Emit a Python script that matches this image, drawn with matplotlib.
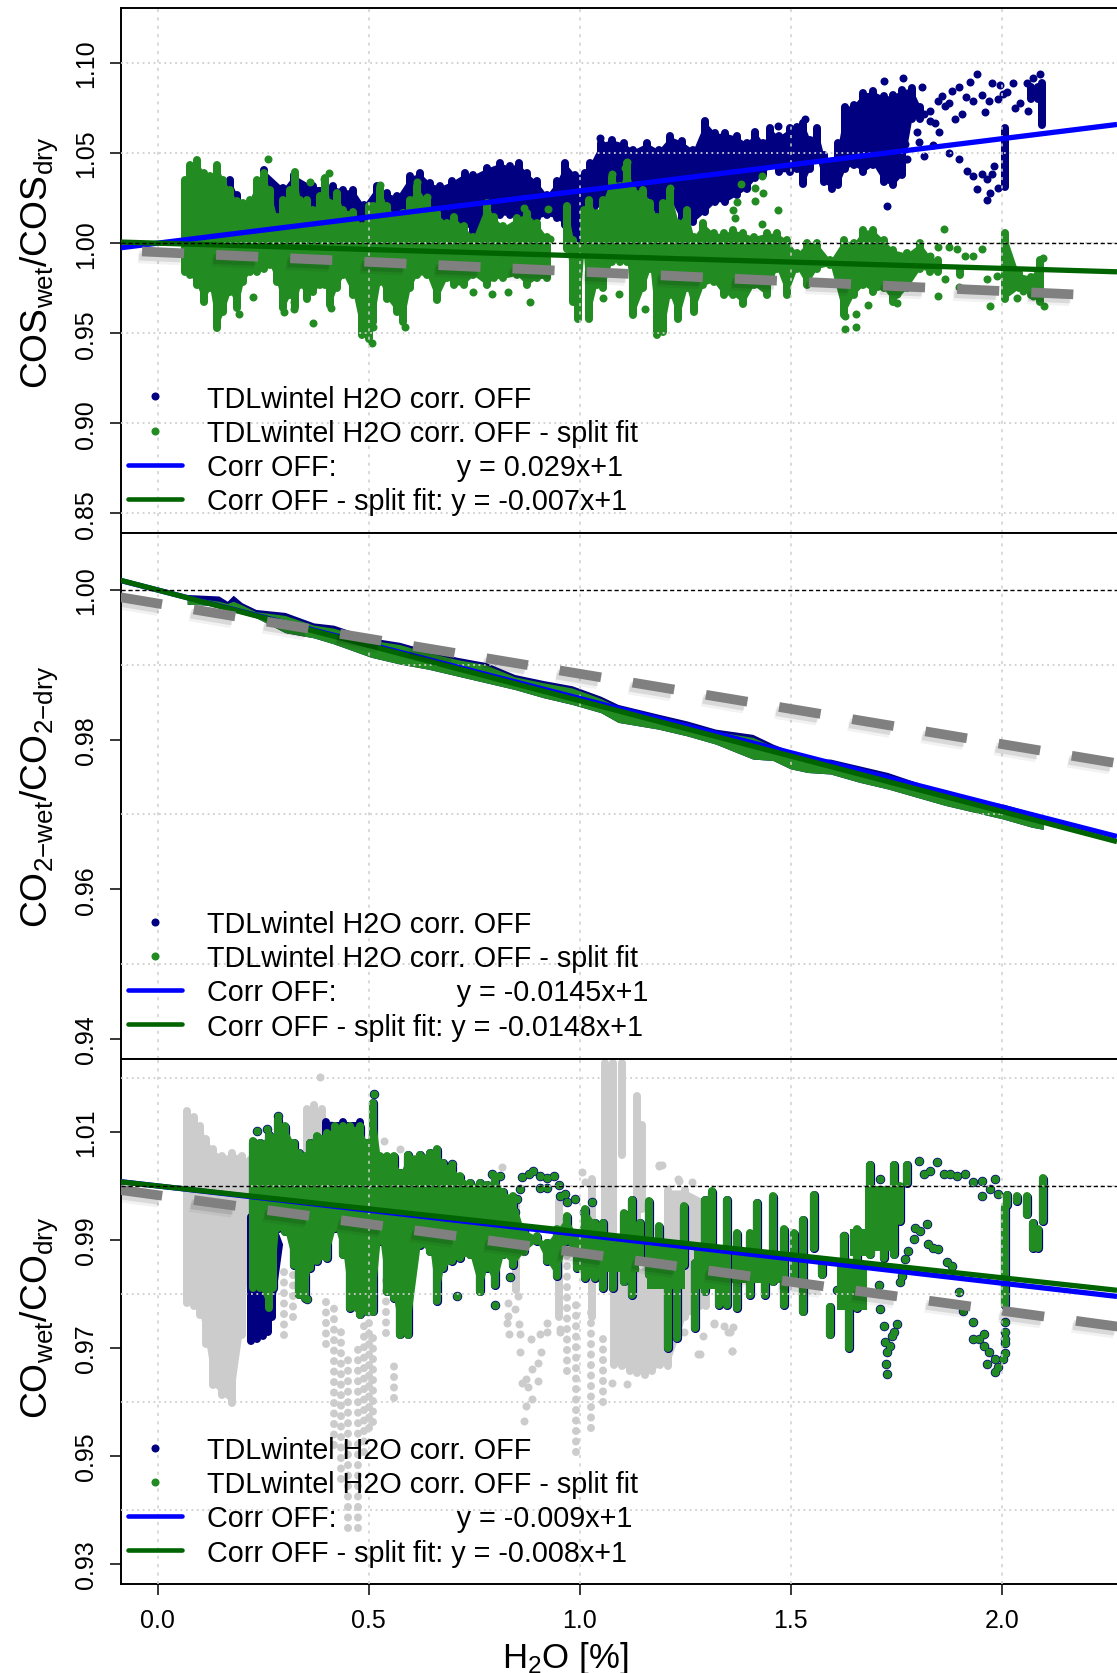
import matplotlib
matplotlib.use("Agg")
import matplotlib.pyplot as plt
import matplotlib.patheffects as pe
from matplotlib.lines import Line2D
import numpy as np

plt.rcParams['font.family'] = ['Liberation Sans', 'DejaVu Sans']
plt.rcParams['mathtext.fontset'] = 'custom'
plt.rcParams['mathtext.rm'] = 'Liberation Sans'
plt.rcParams['mathtext.it'] = 'Liberation Sans'
plt.rcParams['mathtext.default'] = 'rm'

# ---------- labels ----------
x_ticks = [0.0, 0.5, 1.0, 1.5, 2.0]
x_label = r'$\mathrm{H_2O}$ [%]'
series_a = 'TDLwintel H2O corr. OFF'
series_b = 'TDLwintel H2O corr. OFF - split fit'

# ---------- panel 1: COS ----------
cos_ticks = [0.85, 0.90, 0.95, 1.00, 1.05, 1.10]
cos_grid = [0.85, 0.90, 0.95, 1.00, 1.05, 1.10]
cos_fit_a, cos_fit_b = 0.029, -0.007
cos_ref = (0.9950, -0.0108)
cos_ref_x = (-0.037, 2.186)

cos_navy_x = [.172, .188, .211, .251, .298, .322, .369, .416, .440, .464, .488, .519, .543, .567, .598, .622, .646,
              .669, .697, .729, .748, .780, .812, .835, .855, .875, .898, .922, .946, .966, .989, 1.013, 1.025,
              1.05, 1.076, 1.104, 1.127, 1.159, 1.187, 1.214, 1.242, 1.269, 1.297, 1.321, 1.345, 1.372, 1.396, 1.416,
              1.435, 1.451, 1.471, 1.499, 1.514, 1.530, 1.546, 1.562, 1.578, 1.597, 1.613, 1.629, 1.649, 1.672,
              1.696, 1.720, 1.743, 1.763, 1.787, 1.807, 2.008, 2.070, 2.085, 2.095]
cos_navy_top = [1.0374, 1.0291, 1.0226, 1.043, 1.0328, 1.0402, 1.0337, 1.0337, 1.0319, 1.0319, 1.0235, 1.0337, 1.03,
                1.0282, 1.0393, 1.0411, 1.0356, 1.0337, 1.0365, 1.0411, 1.0402, 1.0439, 1.0467, 1.0448, 1.0467,
                1.0411, 1.0365, 1.0291, 1.0365, 1.0467, 1.0402, 1.0411, 1.0466, 1.058, 1.0596, 1.0578, 1.0541, 1.0578,
                1.0541, 1.0615, 1.0587, 1.0541, 1.0698, 1.0633, 1.0633, 1.0615, 1.0578, 1.0642, 1.0578, 1.0661,
                1.0615, 1.0661, 1.067, 1.0689, 1.0596, 1.0661, 1.0513, 1.0466, 1.0578, 1.0781, 1.079, 1.0855, 1.0865,
                1.0837, 1.0846, 1.0874, 1.0883, 1.0781, 1.0661, 1.0892, 1.0892, 1.0911]
cos_navy_bot = [1.0, 1.0, 1.0, 1.0, 1.0, 1.0, 1.0, 1.0, 1.0, 1.0, 1.0, 1.0, 1.0, 1.0, 1.0, 1.0, 1.0,
                1.0059, 1.0096, 1.0078, 1.0041, 1.0096, 1.0133, 1.0133, 1.0115, 1.0031, 1.0115, 1.0133, 1.0115,
                1.0078, .9967, .9965, 1.0115, 1.02, 1.0281, 1.0281, 1.0281, 1.0244, 1.0096, 1.0226, 1.0096, 1.0096,
                1.0152, 1.0207, 1.0207, 1.0244, 1.0281, 1.0337, 1.0355, 1.0411, 1.0374, 1.0374, 1.0392, 1.0309,
                1.0392, 1.0448, 1.0318, 1.0281, 1.03, 1.0392, 1.0411, 1.0374, 1.0411, 1.0318, 1.03, 1.0355, 1.067,
                1.067, 1.0291, 1.0781, 1.0781, 1.0633]
cos_navy_px = [1.048, 1.728, 1.965, 1.973, 1.941, 1.720, 1.766, 1.812, 1.882, 1.898, 1.925, 1.941, 1.915, 1.933, 1.953,
               1.969, 1.961, 1.890, 1.905, 1.830, 1.842, 1.852, 1.800, 1.750, 1.728, 1.803, 1.771, 1.838, 1.874, 1.898,
               1.775, 1.815, 1.763, 1.917, 1.933, 1.953, 1.965, 1.982, 1.992, 1.976, 1.996, 1.990, 2.004, 2.026, 2.044,
               2.032, 2.063, 2.059, 2.075, 2.090, 1.533, 1.469, 1.858, 1.850, 1.874, 1.866, 1.830, 1.815, 1.795, 2.012,
               1.977]
cos_navy_py = [1.0583, 1.0207, 1.0241, 1.0281, 1.03, 1.0902, 1.0915, 1.0865, 1.0846, 1.0865, 1.0896, 1.0939, 1.0813,
               1.0787, 1.0824, 1.0787, 1.0731, 1.0689, 1.0716, 1.068, 1.0666, 1.0618, 1.0618, 1.0596, 1.0559, 1.0563,
               1.055, 1.0544, 1.0503, 1.047, 1.0466, 1.0485, 1.0448, 1.0402, 1.0374, 1.0383, 1.0355, 1.0429, 1.0309,
               1.0892, 1.0878, 1.08, 1.0828, 1.0887, 1.0781, 1.0753, 1.0735, 1.0892, 1.092, 1.0939, 1.0692, 1.0652,
               1.0815, 1.0791, 1.0781, 1.0763, 1.0735, 1.0716, 1.0716, 1.0837, 1.0383]

cos_green_x = [.065, .077, .093, .109, .124, .140, .156, .172, .188, .203, .219, .235, .251, .266, .282, .298, .314,
               .326, .338, .353, .369, .385, .397, .409, .424, .440, .464, .484, .500, .511, .527, .543, .567, .582,
               .598, .614, .638, .661, .685, .701, .725, .748, .780, .796, .819, .851, .875, .898, .922, .970, .985,
               .997, 1.009, 1.021, 1.040, 1.056, 1.076, 1.096, 1.112, 1.127, 1.151, 1.167, 1.183, 1.198, 1.214, 1.234,
               1.254, 1.270, 1.293, 1.317, 1.341, 1.364, 1.388, 1.412, 1.443, 1.467, 1.491, 1.515, 1.538, 1.562,
               1.594, 1.625, 1.649, 1.672, 1.696, 1.720, 1.743, 1.775, 1.807, 1.830, 1.85, 1.90, 1.95, 2.008, 2.04,
               2.07, 2.09]
cos_green_top = [1.0374, 1.0458, 1.0485, 1.0411, 1.0393, 1.0458, 1.0374, 1.0319, 1.0254, 1.0245, 1.0263, 1.0374, 1.0411,
                 1.0319, 1.017, 1.0263, 1.0319, 1.042, 1.0263, 1.0263, 1.0208, 1.0282, 1.0383, 1.0245, 1.03, 1.0208,
                 1.0198, 1.0115, 1.0226, 1.0226, 1.0328, 1.0226, 1.017, 1.0189, 1.0263, 1.0337, 1.0254, 1.0189, 1.0133,
                 1.017, 1.0115, 1.0059, 1.0245, 1.017, 1.0115, 1.0161, 1.0189, 1.0133, 1.0059, 1.0226, 1.0041, 1.0004,
                 1.0208, 1.0263, 1.0189, 1.0263, 1.0392, 1.0337, 1.0466, 1.0318, 1.0318, 1.0244, 1.017, 1.0244, 1.0318,
                 1.0133, 1.0207, 1.0059, 1.0133, 1.0078, 1.0078, 1.0096, 1.0078, 1.0059, 1.0078, 1.0078, 1.0041, .9966,
                 1.0022, 1.0022, .9929, 1.0041, 1.0022, 1.0096, 1.0096, 1.0041, .9985, .9966, 1.0022, .9948, .9929,
                 .9874, .9874, 1.0078, .9855, .9837, .9929]
cos_green_bot = [.9819, .98, .9745, .9652, .9726, .9504, .9596, .9708, .9615, .9763, .9819, .9819, .9837, .9856, .9763,
                 .9615, .9689, .9624, .9745, .967, .9708, .9745, .9745, .9633, .9726, .98, .9689, .9467, .9448, .9541,
                 .9763, .967, .9596, .9541, .9726, .98, .98, .9661, .9782, .9745, .9745, .98, .9745, .9782, .9782, .98,
                 .9745, .9782, .9782, .9948, .9652, .9559, .9911, .9559, .9744, .9726, .9874, .9874, .9874, .9578, .9726,
                 .9837, .9467, .9485, .9689, .9559, .9726, .9596, .9744, .9763, .9689, .9689, .9642, .9744, .9689, .9837,
                 .9689, .9837, .9744, .9837, .9855, .9578, .9689, .9744, .9707, .9726, .9652, .9726, .9837, .9818, .9818,
                 .98, .9837, .967, .9726, .9689, .9652]
cos_green_px = [.261, .361, .405, .393, .527, .369, .300, .322, .322, .410, .193, .227, .748, .793, .831, .883, .507, .585,
                .511, .638, .614, .926, .887, .867, .93, 1.112, 1.108, 1.076, 1.214, 1.383, 1.416, 1.431, 1.435, 1.416,
                1.372, 1.363, 1.469, 1.431, 1.862, 1.368, 1.629, 1.655, 1.629, 1.655, 1.682, 1.751, 1.751, 1.848, 1.866,
                1.898, 1.953, 1.933, 1.913, 1.894, 1.874, 1.850, 1.830, 1.973, 2.097, 2.099, 2.075, 2.036, 2.032, 2.051,
                1.965, 1.988, 2.068, 2.083, 1.155, 1.094, 1.055]
cos_green_py = [1.0467, 1.0337, 1.0387, 1.0356, 1.0324, .9556, .9615, .9633, .9676, .9639, .9606, .9702, .9726, .9720,
                .9726, .9674, .9443, .9535, .9537, 1.0258, 1.0337, 1.0189, 1.0106, 1.0198, 1.0022, 1.0448, 1.042, 1.0383,
                1.0309, 1.0328, 1.0309, 1.0374, 1.0281, 1.0235, 1.0226, 1.0183, 1.0185, 1.0105, 1.0078, 1.0142, .9522,
                .9535, .9596, .9605, .9657, .9720, .9670, .9707, .98, .9759, .9966, .9926, .9926, .9966, .9976, .9981,
                .9929, .9652, .9920, .9652, .9707, .9698, .9781, .9735, .98, .9818, .98, .9818, .9637, .9716, .9698]

# ---------- panel 2: CO2 ----------
co2_ticks = [0.94, 0.96, 0.98, 1.00]
co2_grid = [0.95, 0.97, 0.99]
co2_fit_a, co2_fit_b = -0.0145, -0.0148
co2_ref = (0.9982, -0.0094)
co2_ref_x = (-0.088, 2.30)
co2_x = [.070, .145, .165, .179, .20, .233, .302, .370, .417, .506, .574, .642, .710, .778, .846, .914, .982, 1.050, 1.091,
         1.186, 1.254, 1.322, 1.410, 1.458, 1.499, 1.540, 1.594, 1.662, 1.730, 1.798, 1.866, 1.934, 2.002, 2.070, 2.098]
co2_navy_top = [.9994, .9992, .9985, .9993, .9983, .9974, .9970, .9956, .9953, .9936, .9930, .9919, .9910, .9903, .9887,
                .9879, .9872, .9858, .9847, .9834, .9825, .9814, .9807, .9794, .9785, .9774, .9774, .9765, .9756, .9743,
                .9729, .9720, .9714, .9703, .9698]
co2_green_top = [.9991, .9985, .9982, .9985, .9980, .9971, .9966, .9953, .9949, .9933, .9927, .9916, .9907, .9900, .9884,
                 .9876, .9869, .9855, .9844, .9831, .9822, .9811, .9803, .9791, .9782, .9771, .9771, .9762, .9753, .9740,
                 .9726, .9717, .9711, .9700, .9695]
co2_green_bot = [.9981, .9979, .9976, .9974, .9970, .9963, .9943, .9936, .9928, .9910, .9901, .9894, .9885, .9876, .9867,
                 .9856, .9847, .9836, .9823, .9814, .9805, .9794, .9774, .9772, .9761, .9756, .9754, .9743, .9734, .9723,
                 .9712, .9703, .9694, .9683, .9680]

# ---------- panel 3: CO ----------
co_ticks = [0.93, 0.95, 0.97, 0.99, 1.01]
co_grid = [0.94, 0.96, 0.98, 1.00, 1.02]
co_fit_a, co_fit_b = -0.009, -0.0085
co_ref = (0.9983, -0.0107)
co_ref_x = (-0.088, 2.30)

co_block_x = [.0697, .085, .1005, .115, .1308, .1536, .1765, .1993, .2191]
co_block_top = [1.0146, 1.0135, 1.0118, 1.0095, 1.0075, 1.0062, 1.0069, 1.0062, 1.0056]
co_block_bot = [.9775, .9770, .9754, .9700, .9624, .9606, .9590, .9717, .9883]
co_mid_x = [.355, .37, .39, .41, .85, .95, 1.03]
co_mid_top = [1.0150, 1.0158, 1.0150, 1.012, .998, .998, 1.002]
co_mid_bot = [1.0, 1.0, 1.0, 1.0, .98, .975, .975]
co_spire_x = [1.06, 1.08, 1.10, 1.135, 1.148]
co_spire_top = [1.0235, 1.0235, 1.0235, 1.0174, 1.012]
co_spire_bot = [.985, .985, 1.005, .99, .995]
co_lower_x = [1.081, 1.10, 1.118, 1.136, 1.154, 1.172, 1.19, 1.21, 1.25, 1.30]
co_lower_top = [.985, .985, .985, .985, .985, .985, .985, 1.0, 1.0, .998]
co_lower_bot = [.9661, .966, .9650, .9647, .9642, .9650, .9661, .966, .975, .977]
co_strand_x = [.30, .32, .40, .419, .435, .451, .474, .49, .501, .510, .56, .54, .991, 1.027, 1.054, .97]
co_strand_top = [.9852, .985, .980, .9791, .975, .9704, .9722, .975, .9791, .9729, .9680, .985, .9791, .9791, .9729, .99]
co_strand_bot = [.9717, .975, .9700, .9513, .945, .9359, .9359, .95, .9544, .9556, .9600, .972, .9500, .9544, .9593, .965]
co_grey_px = [.385, .537, .574, .815, .828, .855, .832, .859, .859, .909, .900, .886, .873, .864, .900, .877, .886, .873,
              .868, .905, .923, .954, .831, .831, .854, .846, .922, .953, .884, 1.006, 1.013, 1.196, 1.234, 1.189, 1.285,
              1.361, 1.318, 1.356, 1.236, 1.266, 1.317, 1.341, 1.364, 1.352, 1.360, 1.281, 1.246, 1.293, 1.112, 1.076,
              1.187]
co_grey_py = [1.0201, 1.0084, 1.0069, 1.0035, .9747, .9744, .9726, .9726, .9692, .9692, .9673, .9661, .9642, .9636, .9639,
              .9627, .9606, .9593, .9565, .9726, .9747, .9729, .9784, .9760, .9797, .9772, .9729, .9735, .9717, 1.0025,
              1.0007, 1.0038, 1.0013, 1.0038, .9689, .9695, .9747, .9729, 1.0010, 1.0008, .9744, .9741, .9738, .9729,
              .9695, .9688, .9729, .9723, .9633, .9636, 1.0036]

co_navy_x = [.222, .235, .25, .262, .272, .296, .40, .44, .48]
co_navy_top = [.995, .995, .995, .995, .995, .99, 1.0125, 1.0125, 1.0125]
co_navy_bot = [.9705, .9710, .9715, .9722, .975, .9885, 1.0, 1.0, 1.0]

co_green_x = [.227, .243, .263, .274, .286, .302, .322, .334, .349, .361, .377, .401, .421, .440, .456, .480, .496, .511,
              .527, .543, .559, .575, .594, .622, .646, .661, .677, .697, .717, .740, .764, .780, .800, .819, .843, .867,
              .898, .922, .946, .970, .993, 1.013, 1.037, 1.056, 1.080, 1.104, 1.123, 1.143, 1.163, 1.187, 1.210, 1.230,
              1.246, 1.274, 1.297, 1.313, 1.329, 1.349, 1.372, 1.404, 1.420, 1.439, 1.459, 1.483, 1.507, 1.530, 1.554,
              1.574, 1.593, 1.625, 1.637, 1.657, 1.688, 1.704, 1.720, 1.744, 1.759, 1.775, 2.008, 2.012, 2.036, 2.059,
              2.075, 2.087, 2.097]
co_green_top = [1.0090, 1.0087, 1.0102, 1.0096, 1.0130, 1.0118, 1.0087, 1.0069, 1.0062, 1.0087, 1.0099, 1.0106, 1.0118,
                1.0118, 1.0118, 1.0118, 1.0087, 1.0161, 1.0062, 1.0062, 1.0062, 1.0032, 1.0065, 1.0065, 1.0069, 1.0075,
                1.0050, 1.0044, 1.0025, 1.0013, 1.0013, 1.0010, 1.0025, .9997, .9988, .9927, .9914, .9902, .9927, .9951,
                .9914, .9964, .9939, .9939, .9896, .9957, .9982, .9939, .9979, .9933, .9890, .9890, .9970, .9865, .9982,
                .9998, .9877, .9982, .9920, .9920, .9976, .9865, .9988, .9927, .9920, .9945, .9991, .9865, .9784, .9914,
                .9846, .9927, 1.0047, .9982, .9988, 1.0047, 1.0007, 1.0047, .9970, .9991, .9988, .9988, .9939, .9927,
                1.0022]
co_green_bot = [.9803, .9803, .9766, .9803, .9914, .9908, .9846, .9791, .9785, .9840, .9853, .9859, .9914, .9865, .9766,
                .9754, .9760, .9760, .9890, .9797, .9785, .9717, .9717, .9883, .9871, .9779, .9840, .9853, .9859, .9865,
                .9797, .9840, .9809, .9865, .9846, .9871, .9890, .9853, .9825, .9890, .9840, .9822, .9822, .9803, .9803,
                .9815, .9790, .9859, .9828, .9828, .9692, .9711, .9846, .9729, .9797, .9865, .9772, .9772, .9766, .9790,
                .9865, .9790, .9815, .9772, .9815, .9760, .9877, .9828, .9717, .9803, .9692, .9766, .9865, .9883, .9859,
                .9865, .9927, .9998, .9772, .9957, .9964, .9939, .9877, .9877, .9927]
co_green_px = [1.712, 1.720, 1.751, 1.740, 1.724, 1.728, 1.726, 1.728, 1.736, 1.744, 1.933, 1.945, 1.957, 1.969, 1.984, 1.965,
               1.984, 1.992, 2.004, 2.008, 1.957, 1.933, 1.898, 1.909, 1.795, 1.822, 1.807, 1.826, 1.838, 1.850, 1.791,
               1.779, 1.771, 1.759, 1.763, 1.708, 1.870, 1.882, 1.712, 1.625, 1.609, 1.803, 1.815, 1.846, 1.862, 1.894,
               1.913, 1.933, 1.953, 1.984, 1.973, 1.953, 1.992, 1.830, 1.878, .851, .859, .863, .879, .890, .906, .922,
               .938, .950, .922, .906, .966, .954, .970, .989, 1.009, 1.029, .847, .843, .697, .709, .792, .811, .800,
               .834, .353, .235, .259, .286, .513, 2.008, 2.008, 2.008, 2.008]
co_green_py = [.9772, .9741, .9744, .9723, .9711, .9692, .9670, .9652, .9704, .9729, .9717, .9717, .9704, .9692, .9680, .9670,
               .9655, .9664, .9680, .9717, .9726, .9749, .9804, .9769, .9923, .9930, .9917, .9893, .9886, .9883, .9902,
               .9880, .9865, .9822, .9834, .9817, .9859, .9852, 1.0013, .9908, .9808, 1.0047, 1.0022, 1.0044, 1.0022,
               1.0019, 1.0022, 1.0007, 1.0010, 1.0013, .9994, .9981, .9985, 1.0028, 1.0022, .9976, .9994, 1.0016, 1.0022,
               1.0028, 1.0019, 1.0014, 1.0018, 1.0002, .9996, .9997, .9985, .9982, .9970, .9976, .9951, .9970, .9951,
               .9945, 1.0041, .9797, 1.0022, 1.0019, .9779, .9831, .9791, 1.0102, 1.0106, 1.0130, 1.0170, .9749, .9730,
               .9710, .9690]
# denser patches of the green cloud where its strands merge (start, end, upper, lower)
co_patch_x0 = [1.03, 1.16, 1.27, 1.36, 1.61, 1.64, 1.675]
co_patch_x1 = [1.14, 1.25, 1.34, 1.49, 1.68, 1.70, 1.74]
co_patch_top = [.991, .990, .989, .988, .986, .992, 1.0]
co_patch_bot = [.984, .981, .981, .982, .977, .987, .988]

# ---------- styles ----------
W, H = 1117, 1674
DPI = 100
NAVY, GREEN, BLUE, DGREEN = '#000080', '#228B22', '#0000FF', '#006400'
GREY, LGREY = '#808080', '#CCCCCC'
px = 72 / DPI
DOT = 8 * px

fig = plt.figure(figsize=(W / DPI, H / DPI), dpi=DPI)
L = 120.5 / W


def make_axes(top_px, bot_px, ylim, yticks):
    ax = fig.add_axes([L, 1 - bot_px / H, 1 - L, (bot_px - top_px) / H])
    ax.set_xlim(-0.088, 2.273)
    ax.set_ylim(*ylim)
    ax.spines['right'].set_visible(False)
    for s in ('left', 'top', 'bottom'):
        ax.spines[s].set_linewidth(1.4)
    ax.set_yticks(yticks)
    ax.set_yticklabels([f'{v:.2f}' for v in yticks], rotation=90, va='center', fontsize=18)
    ax.tick_params(axis='y', length=8, width=1.1, pad=8)
    ax.set_xticks(x_ticks)
    ax.tick_params(axis='x', bottom=False, labelbottom=False)
    return ax


def columns(ax, xs, top, bot, color, r_px=4, lw=DOT, z=2, ls='solid', fill_gap=0.0):
    """Draw a cloud envelope as round-ended columns of overlapping dots,
    optionally solid between neighbouring columns."""
    ylo, yhi = ax.get_ylim()
    pad = r_px * (yhi - ylo) / ax.get_window_extent().height
    xs = np.array(xs)
    t = np.array(top) - pad
    b = np.minimum(np.array(bot) + pad, t)
    ax.vlines(xs, b, t, colors=color, linewidths=lw, capstyle='round', zorder=z, linestyles=ls)
    if fill_gap > 0:
        cuts = np.where(np.diff(xs) > fill_gap)[0] + 1
        for idx in np.split(np.arange(len(xs)), cuts):
            ax.fill_between(xs[idx], b[idx], t[idx], color=color, lw=0, zorder=z)


def dots(ax, xs, ys, color, d=8, z=2):
    ax.scatter(xs, ys, s=(d * px) ** 2, c=color, linewidths=0, zorder=z)


def finish(ax, grid_y, fit_a, fit_b, ref, ref_x, legend_a, legend_b, label, label_y, leg_top):
    for gx in x_ticks:
        ax.axvline(gx, color='#CFCFCF', lw=1.1, ls=(0, (2, 3.5)), zorder=5)
    for gy in grid_y:
        ax.axhline(gy, color='#CFCFCF', lw=1.3, ls=(0, (1, 2)), zorder=5)
    xx = np.array([-0.088, 2.273])
    ax.plot(xx, 1 + fit_a * xx, color=BLUE, lw=3.8, zorder=6, solid_capstyle='butt')
    ax.plot(xx, 1 + fit_b * xx, color=DGREEN, lw=3.8, zorder=7, solid_capstyle='butt')
    rx = np.array(ref_x)
    ax.plot(rx, ref[0] + ref[1] * rx, color=GREY, lw=7, ls=(0, (4.33, 3.3)), dash_capstyle='butt', zorder=8,
            path_effects=[pe.SimpleLineShadow(offset=(-3, -5), shadow_color='k', alpha=0.05),
                          pe.SimpleLineShadow(offset=(-2, -3), shadow_color='k', alpha=0.10),
                          pe.Normal()])
    ax.axhline(1.0, color='k', lw=1.0, ls=(0, (3, 2)), zorder=9)
    hs = [Line2D([], [], ls='none', marker='o', ms=5.8, mfc=NAVY, mec='none'),
          Line2D([], [], ls='none', marker='o', ms=5.8, mfc=GREEN, mec='none'),
          Line2D([], [], color=BLUE, lw=3.3, solid_capstyle='round'),
          Line2D([], [], color=DGREEN, lw=3.3, solid_capstyle='round')]
    labs = [series_a, series_b, legend_a, legend_b]
    axh = ax.get_window_extent().height
    top_px = (1 - ax.get_position().y1) * H
    leg = ax.legend(hs, labs, loc='upper left', frameon=False, fontsize=20.7, numpoints=1,
                    bbox_to_anchor=((128 - 120.5) / (W - 120.5), 1 - (leg_top - top_px) / axh),
                    borderpad=0, borderaxespad=0, handlelength=1.88, handletextpad=0.87, labelspacing=0.215)
    leg.set_zorder(20)
    ax.set_ylabel(label, fontsize=26.8, labelpad=0)
    ax.yaxis.set_label_coords((60 - 120.5) / (W - 120.5), 1 - (label_y - top_px) / axh)


# panel 1
ax1 = make_axes(9, 533.7, (0.8392, 1.1306), cos_ticks)
columns(ax1, cos_navy_x, cos_navy_top, cos_navy_bot, NAVY, fill_gap=0.06)
dots(ax1, cos_navy_px, cos_navy_py, NAVY)
columns(ax1, cos_green_x, cos_green_top, cos_green_bot, GREEN, z=3, fill_gap=0.045)
dots(ax1, cos_green_px, cos_green_py, GREEN, z=3)
finish(ax1, cos_grid, cos_fit_a, cos_fit_b, cos_ref, cos_ref_x,
       'Corr OFF:               y = 0.029x+1', 'Corr OFF - split fit: y = -0.007x+1',
       r'$\mathrm{COS_{wet}/COS_{dry}}$', 263, 385.5)

# panel 2
ax2 = make_axes(533.7, 1060, (0.9373, 1.00766), co2_ticks)
ax2.fill_between(co2_x, co2_navy_top, co2_green_bot, color=NAVY, lw=0, zorder=2)
ax2.fill_between(co2_x, co2_green_top, co2_green_bot, color=GREEN, lw=0, zorder=3)
finish(ax2, co2_grid, co2_fit_a, co2_fit_b, co2_ref, co2_ref_x,
       'Corr OFF:               y = -0.0145x+1', 'Corr OFF - split fit: y = -0.0148x+1',
       r'$\mathrm{CO_{2{-}wet}/CO_{2{-}dry}}$', 797, 911)

# panel 3
ax3 = make_axes(1060, 1585, (0.9263, 1.0235), co_ticks)
columns(ax3, co_block_x, co_block_top, co_block_bot, LGREY, z=1, fill_gap=0.05)
columns(ax3, co_mid_x, co_mid_top, co_mid_bot, LGREY, z=1)
columns(ax3, co_spire_x, co_spire_top, co_spire_bot, LGREY, z=1)
columns(ax3, co_lower_x, co_lower_top, co_lower_bot, LGREY, z=1, fill_gap=0.06)
columns(ax3, co_strand_x, co_strand_top, co_strand_bot, LGREY, lw=DOT, z=1, ls=[(0, (0.01, 1.3))])
dots(ax3, co_grey_px, co_grey_py, LGREY, z=1)
columns(ax3, co_navy_x, co_navy_top, co_navy_bot, NAVY, fill_gap=0.05)
# the navy series runs almost under the green one and shows only as a fringe round it
columns(ax3, co_green_x, co_green_top, co_green_bot, NAVY, r_px=4.5, lw=DOT + 1.2 * px)
dots(ax3, co_green_px, co_green_py, NAVY, d=9.5)
split = 43  # left part of the cloud is solid, right part is strands
columns(ax3, co_green_x[:split], co_green_top[:split], co_green_bot[:split], GREEN, z=3, fill_gap=0.05)
columns(ax3, co_green_x[split:], co_green_top[split:], co_green_bot[split:], GREEN, z=3)
for x0, x1, t, b in zip(co_patch_x0, co_patch_x1, co_patch_top, co_patch_bot):
    ax3.fill_between([x0, x1], [b, b], [t, t], color=GREEN, lw=0, zorder=3)
dots(ax3, co_green_px, co_green_py, GREEN, z=3)
finish(ax3, co_grid, co_fit_a, co_fit_b, co_ref, co_ref_x,
       'Corr OFF:               y = -0.009x+1', 'Corr OFF - split fit: y = -0.008x+1',
       r'$\mathrm{CO_{wet}/CO_{dry}}$', 1318, 1437)

ax3.set_xticks(x_ticks)
ax3.set_xticklabels([f'{v:.1f}' for v in x_ticks], fontsize=18)
ax3.tick_params(axis='x', bottom=True, labelbottom=True, length=8, width=1.1, pad=9)
ax3.set_xlabel(x_label, fontsize=25, labelpad=2)
ax3.xaxis.set_label_coords((565 - 120.5) / (W - 120.5), -0.105)

fig.savefig('out.png', dpi=DPI)
